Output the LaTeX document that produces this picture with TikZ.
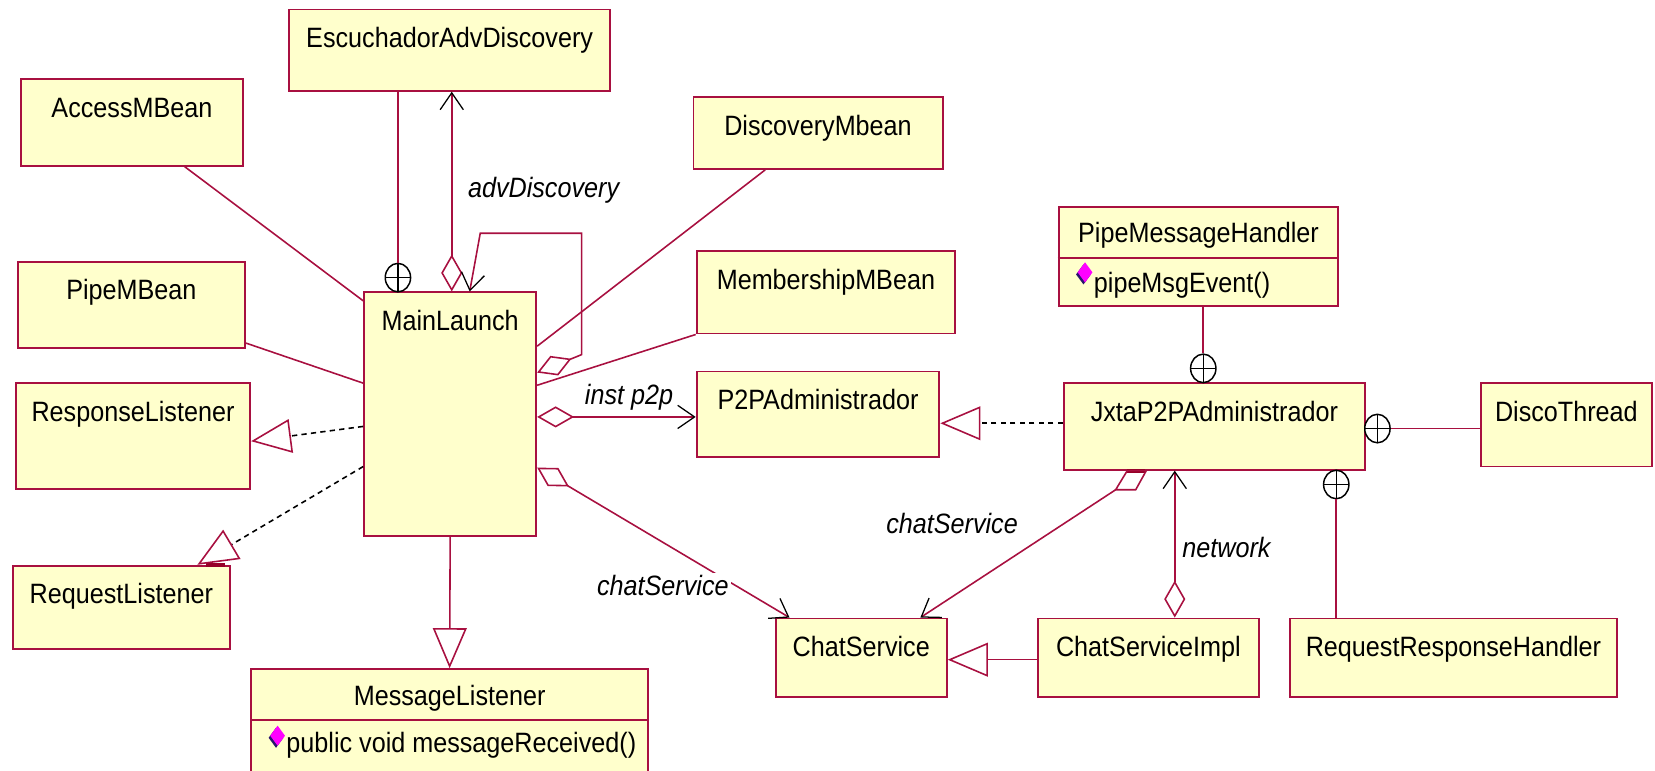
\documentclass[tikz,border=0pt]{standalone}
\usepackage{fontspec}
\setmainfont{Liberation Sans}[FakeStretch=0.9]
\usetikzlibrary{arrows.meta,fit,shapes.geometric}
\definecolor{crim}{RGB}{168,16,64}
\definecolor{crimdark}{RGB}{150,0,40}
\definecolor{clsfill}{RGB}{255,255,204}
\definecolor{opmag}{RGB}{255,0,255}
\definecolor{opnavy}{RGB}{40,20,110}

% class box from corner to corner, with its name centred near the top
\newcommand\umlclass[6]{%
  \node[cls, fit={(#2,#3) (#4,#5)}] (#1) {};
  \node[anchor=base, inner sep=0pt] (#1-name) at ({(#2+#4)/2},{#3+36}) {#6};}
% operation marker (magenta diamond with a dark shadow)
\newcommand\opicon[2]{%
  \fill[opnavy] ({#1-1.5},{#2-7.5}) -- ({#1+5.5},{#2+2}) -- ({#1-1.5},{#2+11.5}) -- ({#1-8.5},{#2+2}) -- cycle;
  \fill[opmag] (#1,{#2-9.5}) -- ({#1+7},#2) -- (#1,{#2+9.5}) -- ({#1-7},#2) -- cycle;}

\begin{document}
\begin{tikzpicture}[x=0.5pt,y=-0.5pt,
  font=\fontsize{13.25}{15}\selectfont,
  cls/.style={draw=crim, fill=clsfill, line width=0.9pt, inner sep=0pt},
  assoc/.style={draw=crim, line width=0.75pt},
  realize/.style={draw=black, line width=0.75pt, dash pattern=on 2.5pt off 2pt},
  role/.style={font=\fontsize{13.25}{15}\selectfont\itshape, inner sep=1pt},
  selbar/.style={draw=crimdark, line width=2pt},
  nest/.style={ellipse, draw=black, fill=white, line width=0.7pt,
    minimum width=12pt, minimum height=13.5pt, inner sep=0pt,
    path picture={\draw[black,line width=0.7pt]
      (path picture bounding box.north) -- (path picture bounding box.south)
      (path picture bounding box.west) -- (path picture bounding box.east);}},
  gen/.style={-{Triangle[open,length=19pt,width=16pt,color=crim,line width=0.75pt]}},
  agg/.style={{Diamond[open,length=17.5pt,width=10pt,color=crim,line width=0.75pt]}-{Straight Barb[length=8pt,width=11pt,color=black,line width=0.6pt]}},
  nav/.style={-{Straight Barb[length=8pt,width=11pt,color=black,line width=0.6pt]}},
]
\useasboundingbox (0,0) rectangle (1568,730);

% ---- classes ----
\umlclass{esc}{274}{9}{578}{86}{EscuchadorAdvDiscovery}
\umlclass{am}{20}{75}{230}{157}{AccessMBean}
\umlclass{dm}{657}{92}{893}{160}{DiscoveryMbean}
\umlclass{pm}{17}{248}{232}{330}{PipeMBean}
\umlclass{mm}{660}{238}{905}{316}{MembershipMBean}
\umlclass{ml}{345}{277}{508}{508}{MainLaunch}
\umlclass{rl}{15}{363}{237}{463}{ResponseListener}
\umlclass{reql}{12}{536}{218}{615}{RequestListener}
\umlclass{p2p}{660}{352}{890}{433}{P2PAdministrador}
\umlclass{jx}{1008}{363}{1293}{445}{JxtaP2PAdministrador}
\umlclass{dt}{1403}{363}{1565}{442}{DiscoThread}
\umlclass{cs}{735}{586}{897}{660}{ChatService}
\umlclass{csi}{983}{586}{1193}{660}{ChatServiceImpl}
\umlclass{rrh}{1222}{586}{1532}{660}{RequestResponseHandler}

% classes with an operations compartment
\node[cls, fit={(1003,196) (1268,290)}] (pmh) {};
\draw[crim, line width=0.9pt] (pmh.west |- 0,244) -- (pmh.east |- 0,244);
\node[anchor=base, inner sep=0pt] (pmh-name) at (1135.5,230) {PipeMessageHandler};
\opicon{1028}{258}
\node[anchor=base west, inner sep=0pt] (pmh-op) at (1036,277) {pipeMsgEvent()};

\node[cls, fit={(238,634) (614,740)}] (msgl) {};
\draw[crim, line width=0.9pt] (msgl.west |- 0,682) -- (msgl.east |- 0,682);
\node[anchor=base, inner sep=0pt] (msgl-name) at (426,668) {MessageListener};
\opicon{263}{697}
\node[anchor=base west, inner sep=0pt] (msgl-op) at (271,713) {public void messageReceived()};

% ---- plain associations to MainLaunch ----
\draw[assoc] (175,0 |- am.south) -- (ml.west |- 0,285);
\draw[assoc] (pm.east |- 0,325) -- (ml.west |- 0,363);
\draw[assoc] (725,0 |- dm.south) -- (ml.east |- 0,328);
\draw[assoc] (mm.south west) -- (ml.east |- 0,365);

% ---- nesting ----
\node[nest] (n-esc) at (377,263) {};
\draw[assoc] (n-esc.north |- esc.south) -- (n-esc.north);
\node[nest] (n-pmh) at (1140,349) {};
\draw[assoc] (n-pmh.north |- pmh.south) -- (n-pmh.north);
\node[nest] (n-dt) at (1305,406) {};
\draw[assoc] (n-dt.east) -- (dt.west |- n-dt.east);
\node[nest] (n-rrh) at (1266,459) {};
\draw[assoc] (n-rrh.south) -- (n-rrh.south |- rrh.north);

% ---- aggregations with navigable roles ----
\draw[assoc, agg] (428,0 |- ml.north) -- (428,0 |- esc.south);
\node[role] (lbl-adv) at (515,180) {advDiscovery};

\draw[assoc, agg] (ml.east |- 0,353) -- (551,336) -- (551,221) -- (455,221) -- (445,0 |- ml.north);

\draw[assoc, agg] (ml.east |- 0,395) -- (p2p.west |- 0,395);
\node[role] (lbl-p2p) at (596,376) {inst p2p};

\draw[assoc, agg] (ml.east |- 0,443) -- (748,0 |- cs.north);
\node[role, fill=white] (lbl-cs1) at (628,555) {chatService};

% aggregation diamond cut by the JxtaP2PAdministrador box
\draw[selbar] (1068,0 |- jx.south) -- (1085,0 |- jx.south);
\draw[assoc] (1068,0 |- jx.south) -- (1086,0 |- jx.south) -- (1076,464) -- (1057,464) -- cycle;
\coordinate (agg-cs) at (1057,464);
\draw[assoc, nav] (agg-cs) -- (872,0 |- cs.north);
\node[role] (lbl-cs2) at (902,496) {chatService};

\draw[assoc, agg] (1113,0 |- csi.north) -- (1113,0 |- jx.south);
\node[role] (lbl-net) at (1162,519) {network};

% ---- realizations ----
\draw[realize, gen] (ml.west |- 0,404) -- (rl.east |- 0,418);
\draw[selbar] (195,0 |- reql.north) -- (213,0 |- reql.north);
\draw[realize, gen] (ml.west |- 0,442) -- (187,0 |- reql.north);
\draw[realize, gen] (jx.west |- 0,401) -- (p2p.east |- 0,401);

% ---- generalizations ----
\draw[assoc, gen] (ml.south) -- (msgl.north);
\draw[assoc, gen] (csi.west |- 0,625) -- (cs.east |- 0,625);
\end{tikzpicture}
\end{document}
